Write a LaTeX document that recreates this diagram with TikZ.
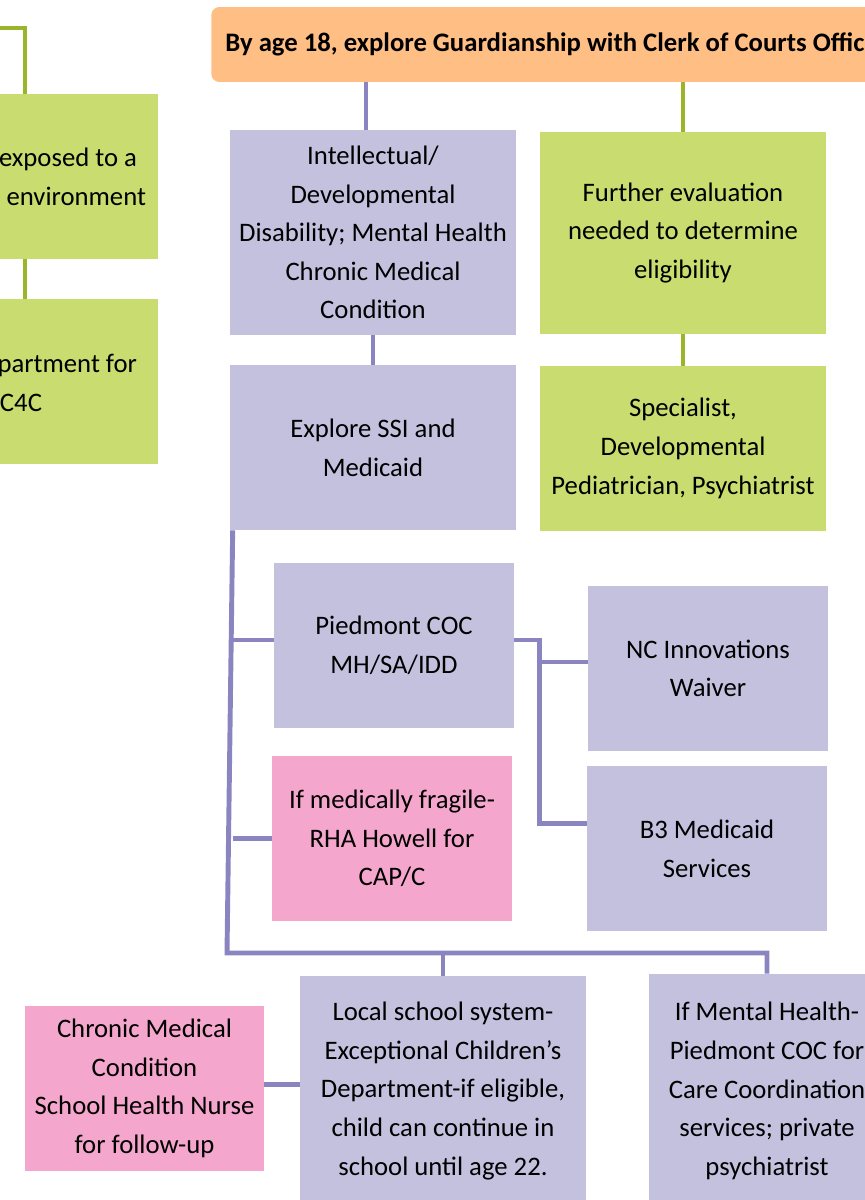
\documentclass[tikz,border=0pt]{standalone}
\usepackage{fontspec}
\setmainfont{Carlito}
\usepackage{tikz}
\usetikzlibrary{positioning, calc}
\definecolor{purplebox}{RGB}{196, 193, 223}
\definecolor{greenbox}{RGB}{200, 220, 111}
\definecolor{pinkbox}{RGB}{245, 166, 204}
\definecolor{orangebox}{RGB}{255, 190, 131}
\definecolor{purpleline}{RGB}{138, 132, 192}
\definecolor{greenline}{RGB}{154, 181, 42}

\begin{document}
\begin{tikzpicture}[
    x=0.02cm, y=-0.02cm,
    box/.style={inner sep=0pt, align=center, minimum width=4.8cm, minimum height=3.3cm, font=\fontsize{15.2}{22}\selectfont},
    wide/.style={box, minimum width=5.72cm},
    purple/.style={box, fill=purplebox},
    green/.style={box, fill=greenbox},
    pink/.style={box, fill=pinkbox},
    cuttext/.style={anchor=east, align=right, inner sep=0pt, font=\fontsize{15.2}{22}\selectfont},
    vline/.style={draw=purpleline, line width=2.8pt},
    gline/.style={draw=greenline, line width=2.8pt}
]
    \useasboundingbox (0,0) rectangle (865,1200);
    \clip (0,0) rectangle (865,1200);

    % Title
    \node[fill=orangebox, rounded corners=0.16cm, anchor=west, inner xsep=0.28cm, minimum height=1.5cm,
          font=\fontsize{15.2}{18}\selectfont\bfseries] (title) at (211,44.5)
          {By age 18, explore Guardianship with Clerk of Courts Office\hspace*{0.6cm}};

    % Left column (cut off)
    \node[green, wide] (left1) at (15,176.5) {};
    \node[cuttext] (left1txt) at ([xshift=-0.24cm]left1.east) {exposed to a\hspace*{0.18cm}\\environment};
    \node[green, wide] (left2) at (15,381.5) {};
    \node[cuttext] (left2txt) at ([xshift=-0.24cm,yshift=-0.03cm]left2.east) {partment for\hspace*{0.18cm}\\C4C\hspace*{2.08cm}};

    % Middle column
    \node[purple, wide, minimum height=4.1cm] (intel) at (373,232.5)
          {Intellectual/\\Developmental\\Disability; Mental Health\\Chronic Medical\\Condition};
    \node[purple, wide] (explore) at (373,447.5) {Explore SSI and\\Medicaid};
    \node[green, wide, minimum height=4.04cm] (further) at (683,233)
          {Further evaluation\\needed to determine\\eligibility};
    \node[green, wide] (special) at (683,448.5)
          {Specialist,\\Developmental\\Pediatrician, Psychiatrist};

    % Branches
    \node[purple] (piedmont) at (394,645.5) {Piedmont COC\\MH/SA/IDD};
    \node[pink] (fragile) at (392,838.5) {If medically fragile-\\RHA Howell for\\CAP/C};
    \node[purple] (innov) at (708,668.5) {NC Innovations\\Waiver};
    \node[purple] (bthree) at (707,848.5) {B3 Medicaid\\Services};

    % Bottom row
    \node[pink, minimum width=4.78cm] (chronic) at (144.5,1088.5)
          {Chronic Medical\\Condition\\School Health Nurse\\for follow-up};
    \node[purple, wide, minimum height=4.6cm] (school) at (443,1091)
          {Local school system-\\Exceptional Children’s\\Department-if eligible,\\child can continue in\\school until age 22.};
    \node[purple, minimum width=4.72cm, minimum height=4.68cm] (mental) at (767,1091)
          {If Mental Health-\\Piedmont COC for\\Care Coordination\\services; private\\psychiatrist};

    % Connectors
    \coordinate (offleft) at (-20,28);
    \coordinate (hub) at (227,953);
    \draw[gline] ([xshift=0.2cm]left1.north) |- (offleft);
    \draw[gline] ([xshift=0.2cm]left1.south) -- ([xshift=0.2cm]left2.north);
    \draw[vline] ([xshift=-0.14cm]intel.north) -- ([xshift=-0.14cm]intel.north |- title.south);
    \draw[gline] (further.north) -- (further.north |- title.south);
    \draw[gline] (further.south) -- (special.north);
    \draw[vline] (intel.south) -- (explore.north);
    \draw[vline] ([xshift=0.06cm]explore.south west) -- (hub) -| (mental.north);
    \draw[vline] (hub -| school.north) -- (school.north);
    \draw[vline] ([yshift=0.11cm]piedmont.west) -- ++(-41,0);
    \draw[vline] (fragile.west) -- ++(-39,0);
    \draw[vline] ([yshift=0.11cm]piedmont.east) -| ([xshift=-0.94cm,yshift=0.5cm]bthree.west) -- ([yshift=0.5cm]bthree.west);
    \draw[vline] ([yshift=0.13cm]innov.west) -- ++(-48,0);
    \draw[vline] ([yshift=0.08cm]chronic.east) -- ([yshift=0.08cm]chronic.east -| school.west);

\end{tikzpicture}
\end{document}
